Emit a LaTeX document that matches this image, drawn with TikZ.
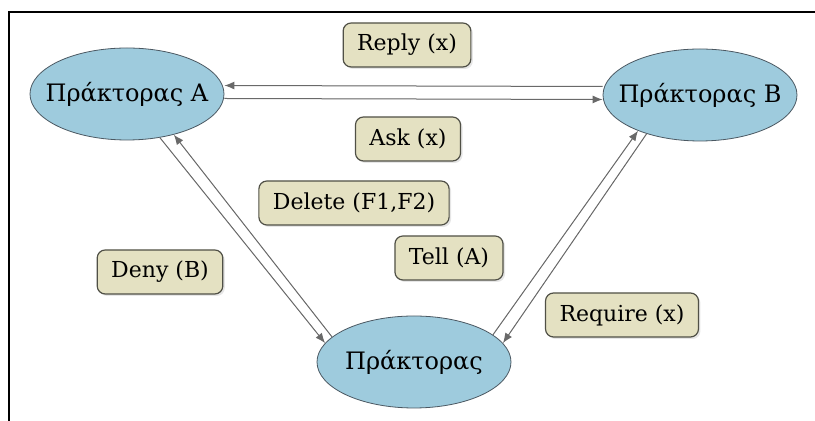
\documentclass[tikz,border=0pt]{standalone}
\usepackage{fontspec}
\setmainfont{DejaVu Serif}
\usepackage{tikz}
\usetikzlibrary{positioning,arrows.meta,shapes.geometric,shadows}
\usepackage{xcolor}

\definecolor{agentblue}{RGB}{158,203,221}
\definecolor{agentedge}{RGB}{75,88,98}
\definecolor{msgbeige}{RGB}{228,225,194}
\definecolor{msgedge}{RGB}{80,80,70}
\definecolor{arrowgrey}{RGB}{105,105,105}

\begin{document}
\begin{tikzpicture}[
        x=0.5pt, y=-0.5pt,
        agentnode/.style={ellipse, draw=agentedge, fill=agentblue, minimum width=97pt, minimum height=46pt, inner xsep=-6.5pt, inner ysep=0pt, font=\fontsize{12}{14}\selectfont},
        msgbox/.style={draw=msgedge, fill=msgbeige, line width=0.6pt, rounded corners=4pt, minimum height=22pt, inner xsep=7pt, font=\fontsize{11}{13}\selectfont, drop shadow={shadow xshift=1pt, shadow yshift=-1pt, opacity=0.2}},
        msgarrow/.style={-{Latex[length=5pt,width=4pt]}, draw=arrowgrey, fill=arrowgrey, line width=0.5pt}
    ]
        \useasboundingbox (0,0) rectangle (815,421);

        % Frame
        \draw[line width=1pt] (9,421) -- (9,12) -- (815,12);

        % Agents
        \node[agentnode] (agA) at (127,94) {Πράκτορας A};
        \node[agentnode] (agB) at (700,95) {Πράκτορας B};
        \node[agentnode] (agC) at (414,362) {Πράκτορας};

        % Messages
        \node[msgbox] (reply) at (407,45) {Reply (x)};
        \node[msgbox] (ask) at (408,139) {Ask (x)};
        \node[msgbox] (delete) at (354,203) {Delete (F1,F2)};
        \node[msgbox] (tell) at (449,258) {Tell (A)};
        \node[msgbox] (deny) at (160,272) {Deny (B)};
        \node[msgbox] (require) at (622,315) {Require (x)};

        % A <-> B
        \draw[msgarrow] ([yshift=4.25pt]agB.west) -- ([yshift=4.25pt]agA.east);
        \draw[msgarrow] ([yshift=-2.25pt]agA.east) -- ([yshift=-2.25pt]agB.west);

        % A <-> C
        \draw[msgarrow] (agA.-53) -- (agC.168);
        \draw[msgarrow] (agC.163) -- (agA.-41);

        % C <-> B
        \draw[msgarrow] (agC.19) -- (agB.-150);
        \draw[msgarrow] (agB.-144) -- (agC.12);

    \end{tikzpicture}
\end{document}
